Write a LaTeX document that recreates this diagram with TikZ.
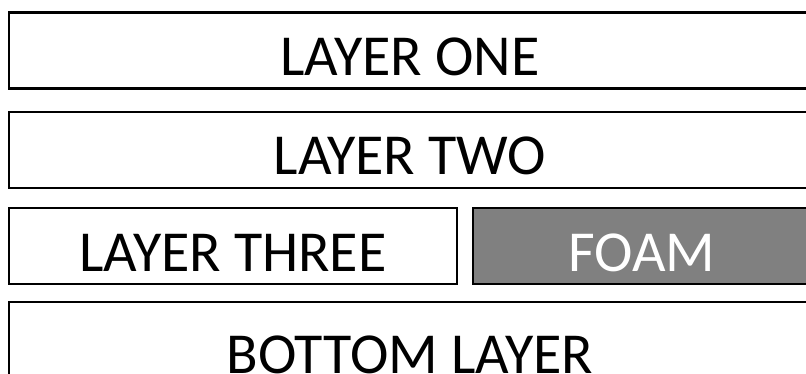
\documentclass[tikz,border=0pt]{standalone}
\usepackage{fontspec}
\setmainfont{Carlito}
\usetikzlibrary{positioning}
\tikzset{
  layer/.style={draw, line width=2.5pt, inner sep=0pt, minimum height=76pt,
    text height=50pt, text depth=0pt, font=\fontsize{58}{62}\selectfont},
  foamlayer/.style={layer, fill=black!50, text=white}
}
\begin{document}
\begin{tikzpicture}[x=1pt,y=-1pt]
  \useasboundingbox (0,0) rectangle (806,374);
  \clip (0,0) rectangle (806,374);
  %strati superiori
  \node[layer, minimum width=802pt] (one) at (410,50.5) {LAYER ONE};
  \node[layer, minimum width=802pt] (two) at (410,150) {LAYER TWO};
  %strato tre e schiuma
  \node[layer, minimum width=448pt] (three) at (233,246) {LAYER THREE};
  \node[foamlayer, minimum width=338pt] (foam) at (642,246) {FOAM};
  %strato di fondo
  \node[layer, minimum width=802pt, minimum height=92pt] (bottom) at (410,348) {BOTTOM LAYER};
\end{tikzpicture}
\end{document}
